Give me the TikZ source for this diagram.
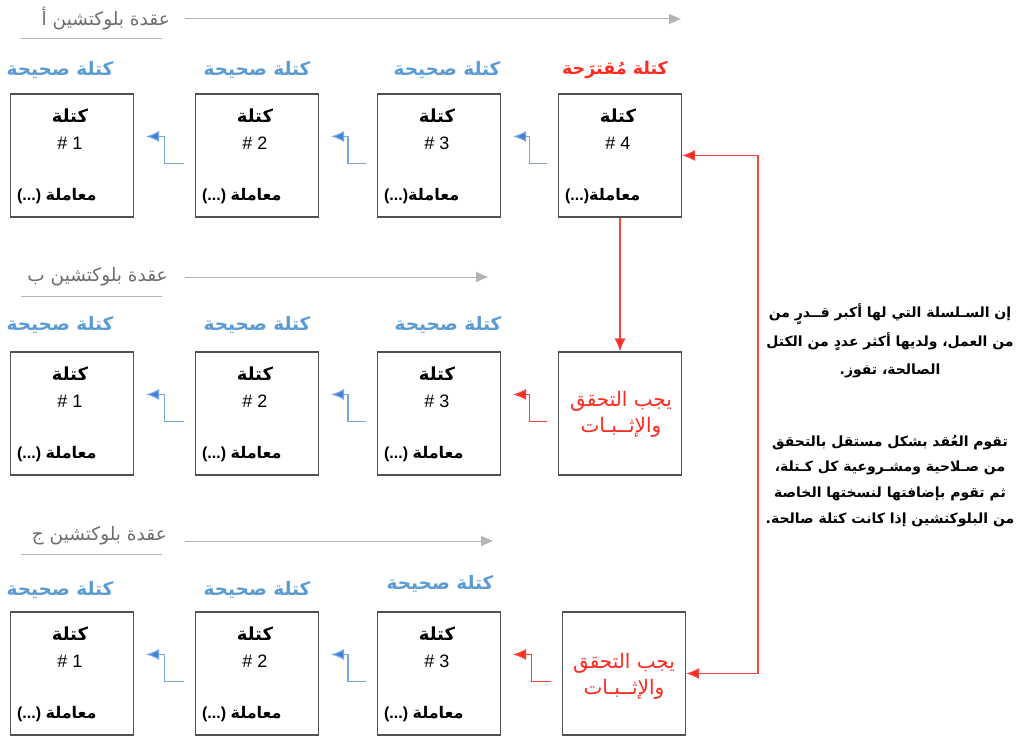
\documentclass[tikz,border=0pt]{standalone}
\usepackage{fontspec}
\setmainfont{Liberation Sans}
\newfontfamily\ar[Script=Arabic]{DejaVu Sans}
\TeXXeTstate=1
\usetikzlibrary{arrows.meta,calc}
\definecolor{boxgray}{HTML}{505050}
\definecolor{lblue}{HTML}{5B9BD5}
\definecolor{eblue}{HTML}{3F7FD8}
\definecolor{vred}{HTML}{FF2A1F}
\definecolor{lred}{HTML}{F2453C}
\definecolor{tgray}{HTML}{6E6E6E}
\definecolor{agray}{HTML}{B4B4B4}
\newcommand\R[1]{\beginR #1\endR}
\tikzset{
  blk/.style={draw=boxgray, line width=1.1pt, minimum width=123pt, minimum height=123pt, inner sep=0pt},
  btitle/.style={font=\ar\bfseries\fontsize{18}{20}\selectfont, inner sep=0pt},
  bnum/.style={font=\fontsize{18}{20}\selectfont, inner sep=0pt},
  btx/.style={font=\bfseries\fontsize{16}{18}\selectfont, inner sep=0pt},
  lbl/.style={text=lblue, font=\ar\bfseries\fontsize{18.5}{20}\selectfont, inner sep=0pt},
  ttl/.style={text=tgray, font=\ar\fontsize{18.5}{20}\selectfont, inner sep=0pt},
  uline/.style={draw=agray, line width=1pt},
  garrow/.style={draw=agray, line width=1pt, -{Triangle[length=12pt,width=10pt]}},
  belbow/.style={draw=eblue!70!white, line width=1.2pt, -{Latex[length=13pt,width=11pt,fill=eblue]}},
  relbow/.style={draw=lred, line width=1.2pt, -{Latex[length=13pt,width=11pt,fill=vred]}},
  rline/.style={draw=lred, line width=1.2pt},
  vtext/.style={text=vred, font=\ar\fontsize{20}{26}\selectfont, align=center, inner sep=0pt},
  para/.style={font=\ar\bfseries\fontsize{14}{28.5}\selectfont, align=center, inner sep=0pt}
}
\newcommand\blockbox[5]{%
  \node[blk] (#1) at (#2,#3+61.5) {};
  \node[btitle] (#1t) at ($(#1.north)+(-2,22)$) {\R{كتلة}};
  \node[bnum] (#1n) at ($(#1.north)+(-2,50)$) {\# #4};
  \node[btx, anchor=west] (#1x) at ($(#1.north west)+(7,103)$) {(...)#5{\ar\R{معاملة}}};
}
\newcommand\elbow[3]{%
  \coordinate (#1s) at ($(#1.north west)+(-11,70)$);
  \coordinate (#1e) at ($(#2.north east)+(12,43)$);
  \coordinate (#1m) at ($(#2.east)!0.5!(#1.west)$);
  \draw[#3] (#1s) -- (#1s -| #1m) |- (#1e);
}
\begin{document}
\begin{tikzpicture}[x=1pt,y=-1pt]
\useasboundingbox[fill=white] (0,0) rectangle (1024,738);

% ---------- Row A ----------
\node[ttl, anchor=east] (ta) at (170,19) {\R{عقدة بلوكتشين أ}};
\draw[uline] (21,39) -- (162,39);
\draw[garrow] (185,19) -- (681,19);
\node[lbl] (la1) at (60,70) {\R{كتلة صحيحة}};
\node[lbl] (la2) at (257,70) {\R{كتلة صحيحة}};
\node[lbl] (la3) at (447,70) {\R{كتلة صحيحة}};
\node[lbl, text=vred, font=\ar\bfseries\fontsize{17.5}{20}\selectfont] (la4) at (615,70) {\R{كتلة مُقترَحة}};
\blockbox{a1}{72}{94}{1}{\ }
\blockbox{a2}{257}{94}{2}{\ }
\blockbox{a3}{439}{94}{3}{}
\blockbox{a4}{620}{94}{4}{}
\elbow{a2}{a1}{belbow}
\elbow{a3}{a2}{belbow}
\elbow{a4}{a3}{belbow}

% ---------- Row B ----------
\node[ttl, anchor=east] (tb) at (168,277) {\R{عقدة بلوكتشين ب}};
\draw[uline] (21,296) -- (162,296);
\draw[garrow] (185,277) -- (488,277);
\node[lbl] (lb1) at (60,325) {\R{كتلة صحيحة}};
\node[lbl] (lb2) at (257,325) {\R{كتلة صحيحة}};
\node[lbl] (lb3) at (448,325) {\R{كتلة صحيحة}};
\blockbox{b1}{72}{352}{1}{\ }
\blockbox{b2}{257}{352}{2}{\ }
\blockbox{b3}{439}{352}{3}{\ }
\node[blk] (b4) at (620,413.5) {};
\node[vtext] (b4t) at (621,414) {\R{يجب التحقق}\\\R{والإثــبـات}};
\elbow{b2}{b1}{belbow}
\elbow{b3}{b2}{belbow}
\elbow{b4}{b3}{relbow}

% ---------- Row C ----------
\node[ttl, anchor=east] (tc) at (167,536) {\R{عقدة بلوكتشين ج}};
\draw[uline] (21,554) -- (162,554);
\draw[garrow] (185,541) -- (493,541);
\node[lbl] (lc1) at (60,590) {\R{كتلة صحيحة}};
\node[lbl] (lc2) at (257,590) {\R{كتلة صحيحة}};
\node[lbl] (lc3) at (440,584) {\R{كتلة صحيحة}};
\blockbox{c1}{72}{612}{1}{\ }
\blockbox{c2}{257}{612}{2}{\ }
\blockbox{c3}{439}{612}{3}{\ }
\node[blk] (c4) at (624,673.5) {};
\node[vtext] (c4t) at (624,676) {\R{يجب التحقق}\\\R{والإثــبـات}};
\elbow{c2}{c1}{belbow}
\elbow{c3}{c2}{belbow}
\elbow{c4}{c3}{relbow}

% ---------- red connectors ----------
\draw[relbow] (a4.south) -- (b4.north);
\coordinate (rx) at (758,0);
\draw[rline, {Latex[length=13pt,width=11pt,fill=vred]}-{Latex[length=13pt,width=11pt,fill=vred]}]
  (a4.east) -- (a4.east -| rx) -- (c4.east -| rx) -- (c4.east);

% ---------- text ----------
\node[para] (p1) at (890,341) {\R{إن السـلسلة التي لها أكبر قــدرٍ من}\\\R{من العمل، ولديها أكثر عددٍ من الكتل}\\\R{الصالحة، تفوز.}};
\node[para, font=\ar\bfseries\fontsize{14}{25.7}\selectfont] (p2) at (890,481) {\R{تقوم العُقد بشكل مستقل بالتحقق}\\\R{من صـلاحية ومشـروعية كل كـتلة،}\\\R{ثم تقوم بإضافتها لنسختها الخاصة}\\\R{من البلوكتشين إذا كانت كتلة صالحة.}};
\end{tikzpicture}
\end{document}
